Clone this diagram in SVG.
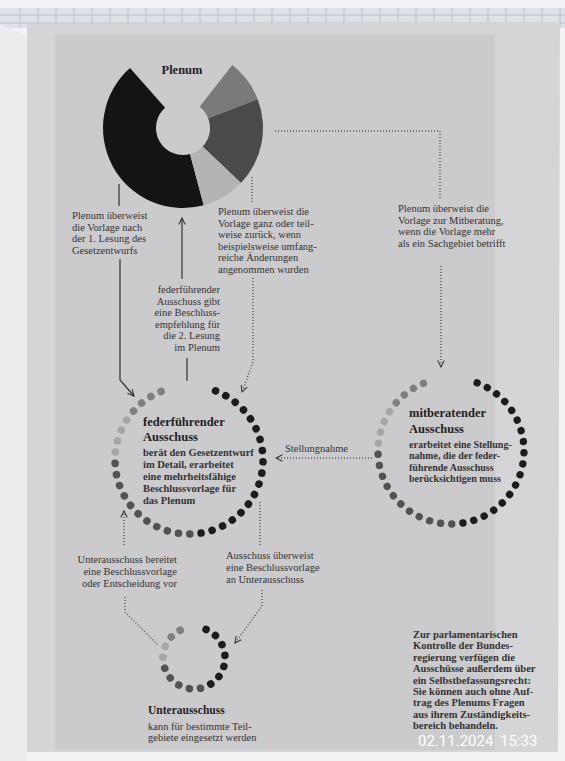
<svg xmlns="http://www.w3.org/2000/svg" width="565" height="761" viewBox="0 0 565 761">
<defs>
<style>
.t{font-family:"Liberation Serif","DejaVu Serif",serif;font-size:10.5px;fill:#333}
.b{font-weight:bold}
.s{font-size:10px}
.h{font-family:"Liberation Serif","DejaVu Serif",serif;font-size:12.5px;font-weight:bold;fill:#222}
.sol{fill:none;stroke:#333;stroke-width:1.2}
.dot{fill:none;stroke:#555;stroke-width:1.5;stroke-dasharray:1 2}
.k{fill:#1c1c1c}.d{fill:#525252}.l{fill:#a6a6a8}.m{fill:#7f7f7f}
.grid{stroke:#b4bccb;stroke-width:0.8}
</style>
<marker id="arr" viewBox="0 0 10 10" refX="9" refY="5" markerWidth="8" markerHeight="8" orient="auto" markerUnits="userSpaceOnUse">
<path d="M1,1 L9,5 L1,9" fill="none" stroke="#333" stroke-width="1.3"/>
</marker>
</defs>

<g id="background">
<rect width="565" height="761" fill="#f3f3f3"/>
<rect x="0" y="8" width="565" height="20" fill="#dde1e8"/>
<g class="grid">
<path d="M0,15H565M0,23H565M20,8V28M38,8V28M56,8V28M74,8V28M92,8V28M110,8V28M128,8V28M146,8V28M164,8V28M182,8V28M200,8V28M218,8V28M236,8V28M254,8V28M272,8V28M290,8V28M308,8V28M326,8V28M344,8V28M362,8V28M380,8V28M398,8V28M416,8V28M434,8V28M452,8V28M470,8V28M488,8V28M506,8V28M524,8V28M542,8V28M560,8V28"/>
</g>
<polygon points="27,24 560,22 558,752 27,752" fill="#d5d5d7"/>
<polygon points="0,24 27,36 27,761 0,761" fill="#ececed"/>
<rect x="55" y="34" width="440" height="716" fill="#cbcbcd"/>
</g>

<g id="plenum">
<path d="M203.7,205.3 A80,80 0 0 1 130.0,68.1 L165.1,107.8 A27,27 0 0 0 190.0,154.1 Z" fill="#141414"/>
<path d="M232.3,65.0 A80,80 0 0 1 257.7,99.3 L208.2,118.3 A27,27 0 0 0 199.6,106.7 Z" fill="#7a7a7c"/>
<path d="M257.7,99.3 A80,80 0 0 1 241.0,183.1 L202.6,146.6 A27,27 0 0 0 208.2,118.3 Z" fill="#4a4a4c"/>
<path d="M241.0,183.1 A80,80 0 0 1 203.7,205.3 L190.0,154.1 A27,27 0 0 0 202.6,146.6 Z" fill="#b4b4b6"/>
<text class="h" x="182" y="74" text-anchor="middle">Plenum</text>
</g>

<g id="connectors">
<path class="sol" d="M119,184V206"/>
<path class="sol" d="M120,259V380L134,396" marker-end="url(#arr)"/>
<path class="sol" d="M182,279V218" marker-end="url(#arr)"/>
<path class="sol" d="M187,358V381"/>
<path class="dot" d="M252,177V203"/>
<path class="dot" d="M253,278V362L242,392" marker-end="url(#arr)"/>
<path class="dot" d="M275,131H440V200"/>
<path class="dot" d="M441,266V367" marker-end="url(#arr)"/>
<path class="dot" d="M372,458H276" marker-end="url(#arr)"/>
<path class="dot" d="M124,545V511" marker-end="url(#arr)"/>
<path class="dot" d="M125,597V612L158,645"/>
<path class="dot" d="M260,502V547"/>
<path class="dot" d="M262,590V606L235,643" marker-end="url(#arr)"/>
</g>

<g id="labels">
<text class="t" x="72" y="219">Plenum überweist<tspan x="72" dy="11.5">die Vorlage nach</tspan><tspan x="72" dy="11.5">der 1. Lesung des</tspan><tspan x="72" dy="11.5">Gesetzentwurfs</tspan></text>
<text class="t" x="218" y="215">Plenum überweist die<tspan x="218" dy="11.5">Vorlage ganz oder teil-</tspan><tspan x="218" dy="11.5">weise zurück, wenn</tspan><tspan x="218" dy="11.5">beispielsweise umfang-</tspan><tspan x="218" dy="11.5">reiche Änderungen</tspan><tspan x="218" dy="11.5">angenommen wurden</tspan></text>
<text class="t" x="220" y="293" text-anchor="end">federführender<tspan x="220" dy="11.5">Ausschuss gibt</tspan><tspan x="220" dy="11.5">eine Beschluss-</tspan><tspan x="220" dy="11.5">empfehlung für</tspan><tspan x="220" dy="11.5">die 2. Lesung</tspan><tspan x="220" dy="11.5">im Plenum</tspan></text>
<text class="t" x="398" y="212">Plenum überweist die<tspan x="398" dy="11.5">Vorlage zur Mitberatung,</tspan><tspan x="398" dy="11.5">wenn die Vorlage mehr</tspan><tspan x="398" dy="11.5">als ein Sachgebiet betrifft</tspan></text>
<text class="t" x="285" y="452">Stellungnahme</text>
<text class="t" x="177" y="563" text-anchor="end">Unterausschuss bereitet<tspan x="177" dy="12">eine Beschlussvorlage</tspan><tspan x="177" dy="12">oder Entscheidung vor</tspan></text>
<text class="t" x="226" y="559">Ausschuss überweist<tspan x="226" dy="12">eine Beschlussvorlage</tspan><tspan x="226" dy="12">an Unterausschuss</tspan></text>
<text class="t b" x="413" y="638">Zur parlamentarischen<tspan x="413" dy="11.4">Kontrolle der Bundes-</tspan><tspan x="413" dy="11.4">regierung verfügen die</tspan><tspan x="413" dy="11.4">Ausschüsse außerdem über</tspan><tspan x="413" dy="11.4">ein Selbstbefassungsrecht:</tspan><tspan x="413" dy="11.4">Sie können auch ohne Auf-</tspan><tspan x="413" dy="11.4">trag des Plenums Fragen</tspan><tspan x="413" dy="11.4">aus ihrem Zuständigkeits-</tspan><tspan x="413" dy="11.4">bereich behandeln.</tspan></text>
<text x="418" y="746" font-family="Roboto,'DejaVu Sans',sans-serif" font-size="15" fill="#ffffff">02.11.2024<tspan x="500">15:33</tspan></text>
</g>

<g id="federfuehrender-ausschuss">
<g transform="translate(189,460)">
<circle class="k" cx="0" cy="-74" r="3.8" transform="rotate(21)"/>
<circle class="k" cx="0" cy="-74" r="3.8" transform="rotate(29.8)"/>
<circle class="k" cx="0" cy="-74" r="3.8" transform="rotate(38.6)"/>
<circle class="k" cx="0" cy="-74" r="3.8" transform="rotate(47.4)"/>
<circle class="k" cx="0" cy="-74" r="3.8" transform="rotate(56.2)"/>
<circle class="k" cx="0" cy="-74" r="3.8" transform="rotate(65)"/>
<circle class="k" cx="0" cy="-74" r="3.8" transform="rotate(73.8)"/>
<circle class="k" cx="0" cy="-74" r="3.8" transform="rotate(82.6)"/>
<circle class="k" cx="0" cy="-74" r="3.8" transform="rotate(91.4)"/>
<circle class="k" cx="0" cy="-74" r="3.8" transform="rotate(100.2)"/>
<circle class="k" cx="0" cy="-74" r="3.8" transform="rotate(109)"/>
<circle class="k" cx="0" cy="-74" r="3.8" transform="rotate(117.8)"/>
<circle class="k" cx="0" cy="-74" r="3.8" transform="rotate(126.6)"/>
<circle class="k" cx="0" cy="-74" r="3.8" transform="rotate(135.4)"/>
<circle class="k" cx="0" cy="-74" r="3.8" transform="rotate(144.2)"/>
<circle class="k" cx="0" cy="-74" r="3.8" transform="rotate(153)"/>
<circle class="k" cx="0" cy="-74" r="3.8" transform="rotate(161.8)"/>
<circle class="k" cx="0" cy="-74" r="3.8" transform="rotate(170.6)"/>
<circle class="d" cx="0" cy="-74" r="3.8" transform="rotate(179.4)"/>
<circle class="d" cx="0" cy="-74" r="3.8" transform="rotate(188.2)"/>
<circle class="d" cx="0" cy="-74" r="3.8" transform="rotate(197)"/>
<circle class="d" cx="0" cy="-74" r="3.8" transform="rotate(205.8)"/>
<circle class="d" cx="0" cy="-74" r="3.8" transform="rotate(214.6)"/>
<circle class="d" cx="0" cy="-74" r="3.8" transform="rotate(223.4)"/>
<circle class="d" cx="0" cy="-74" r="3.8" transform="rotate(232.2)"/>
<circle class="d" cx="0" cy="-74" r="3.8" transform="rotate(241)"/>
<circle class="d" cx="0" cy="-74" r="3.8" transform="rotate(249.8)"/>
<circle class="d" cx="0" cy="-74" r="3.8" transform="rotate(258.6)"/>
<circle class="d" cx="0" cy="-74" r="3.8" transform="rotate(267.4)"/>
<circle class="l" cx="0" cy="-74" r="3.8" transform="rotate(276.2)"/>
<circle class="l" cx="0" cy="-74" r="3.8" transform="rotate(285)"/>
<circle class="l" cx="0" cy="-74" r="3.8" transform="rotate(293.8)"/>
<circle class="l" cx="0" cy="-74" r="3.8" transform="rotate(302.6)"/>
<circle class="m" cx="0" cy="-74" r="3.8" transform="rotate(311.4)"/>
<circle class="m" cx="0" cy="-74" r="3.8" transform="rotate(320.2)"/>
<circle class="m" cx="0" cy="-74" r="3.8" transform="rotate(329)"/>
<circle class="m" cx="0" cy="-74" r="3.8" transform="rotate(337.8)"/>
</g>
<text class="h" x="143" y="426">federführender</text>
<text class="h" x="143" y="441">Ausschuss</text>
<text class="t b" x="143" y="456">berät den Gesetzentwurf<tspan x="143" dy="12">im Detail, erarbeitet</tspan><tspan x="143" dy="12">eine mehrheitsfähige</tspan><tspan x="143" dy="12">Beschlussvorlage für</tspan><tspan x="143" dy="12">das Plenum</tspan></text>
</g>

<g id="mitberatender-ausschuss">
<g transform="translate(451,451)">
<circle class="k" cx="0" cy="-73" r="3.7" transform="rotate(21)"/>
<circle class="k" cx="0" cy="-73" r="3.7" transform="rotate(29.8)"/>
<circle class="k" cx="0" cy="-73" r="3.7" transform="rotate(38.6)"/>
<circle class="k" cx="0" cy="-73" r="3.7" transform="rotate(47.4)"/>
<circle class="k" cx="0" cy="-73" r="3.7" transform="rotate(56.2)"/>
<circle class="k" cx="0" cy="-73" r="3.7" transform="rotate(65)"/>
<circle class="k" cx="0" cy="-73" r="3.7" transform="rotate(73.8)"/>
<circle class="k" cx="0" cy="-73" r="3.7" transform="rotate(82.6)"/>
<circle class="k" cx="0" cy="-73" r="3.7" transform="rotate(91.4)"/>
<circle class="k" cx="0" cy="-73" r="3.7" transform="rotate(100.2)"/>
<circle class="k" cx="0" cy="-73" r="3.7" transform="rotate(109)"/>
<circle class="k" cx="0" cy="-73" r="3.7" transform="rotate(117.8)"/>
<circle class="k" cx="0" cy="-73" r="3.7" transform="rotate(126.6)"/>
<circle class="k" cx="0" cy="-73" r="3.7" transform="rotate(135.4)"/>
<circle class="k" cx="0" cy="-73" r="3.7" transform="rotate(144.2)"/>
<circle class="k" cx="0" cy="-73" r="3.7" transform="rotate(153)"/>
<circle class="k" cx="0" cy="-73" r="3.7" transform="rotate(161.8)"/>
<circle class="k" cx="0" cy="-73" r="3.7" transform="rotate(170.6)"/>
<circle class="d" cx="0" cy="-73" r="3.7" transform="rotate(179.4)"/>
<circle class="d" cx="0" cy="-73" r="3.7" transform="rotate(188.2)"/>
<circle class="d" cx="0" cy="-73" r="3.7" transform="rotate(197)"/>
<circle class="d" cx="0" cy="-73" r="3.7" transform="rotate(205.8)"/>
<circle class="d" cx="0" cy="-73" r="3.7" transform="rotate(214.6)"/>
<circle class="d" cx="0" cy="-73" r="3.7" transform="rotate(223.4)"/>
<circle class="d" cx="0" cy="-73" r="3.7" transform="rotate(232.2)"/>
<circle class="d" cx="0" cy="-73" r="3.7" transform="rotate(241)"/>
<circle class="d" cx="0" cy="-73" r="3.7" transform="rotate(249.8)"/>
<circle class="d" cx="0" cy="-73" r="3.7" transform="rotate(258.6)"/>
<circle class="d" cx="0" cy="-73" r="3.7" transform="rotate(267.4)"/>
<circle class="l" cx="0" cy="-73" r="3.7" transform="rotate(276.2)"/>
<circle class="l" cx="0" cy="-73" r="3.7" transform="rotate(285)"/>
<circle class="l" cx="0" cy="-73" r="3.7" transform="rotate(293.8)"/>
<circle class="l" cx="0" cy="-73" r="3.7" transform="rotate(302.6)"/>
<circle class="m" cx="0" cy="-73" r="3.7" transform="rotate(311.4)"/>
<circle class="m" cx="0" cy="-73" r="3.7" transform="rotate(320.2)"/>
<circle class="m" cx="0" cy="-73" r="3.7" transform="rotate(329)"/>
<circle class="m" cx="0" cy="-73" r="3.7" transform="rotate(337.8)"/>
</g>
<text class="h" x="409" y="417">mitberatender</text>
<text class="h" x="409" y="433">Ausschuss</text>
<text class="t b s" x="409" y="448">erarbeitet eine Stellung-<tspan x="409" dy="11.3">nahme, die der feder-</tspan><tspan x="409" dy="11.3">führende Ausschuss</tspan><tspan x="409" dy="11.3">berücksichtigen muss</tspan></text>
</g>

<g id="unterausschuss">
<g transform="translate(194,658)">
<circle class="k" cx="0" cy="-31" r="3.8" transform="rotate(23)"/>
<circle class="k" cx="0" cy="-31" r="3.8" transform="rotate(43.7)"/>
<circle class="k" cx="0" cy="-31" r="3.8" transform="rotate(64.4)"/>
<circle class="k" cx="0" cy="-31" r="3.8" transform="rotate(85.1)"/>
<circle class="k" cx="0" cy="-31" r="3.8" transform="rotate(105.8)"/>
<circle class="k" cx="0" cy="-31" r="3.8" transform="rotate(126.5)"/>
<circle class="k" cx="0" cy="-31" r="3.8" transform="rotate(147.2)"/>
<circle class="d" cx="0" cy="-31" r="3.8" transform="rotate(167.9)"/>
<circle class="d" cx="0" cy="-31" r="3.8" transform="rotate(188.6)"/>
<circle class="d" cx="0" cy="-31" r="3.8" transform="rotate(209.3)"/>
<circle class="d" cx="0" cy="-31" r="3.8" transform="rotate(230)"/>
<circle class="d" cx="0" cy="-31" r="3.8" transform="rotate(250.7)"/>
<circle class="l" cx="0" cy="-31" r="3.8" transform="rotate(271.4)"/>
<circle class="l" cx="0" cy="-31" r="3.8" transform="rotate(292.1)"/>
<circle class="m" cx="0" cy="-31" r="3.8" transform="rotate(312.8)"/>
<circle class="m" cx="0" cy="-31" r="3.8" transform="rotate(333.5)"/>
</g>
<text class="h" x="148" y="714" style="font-size:11.5px">Unterausschuss</text>
<text class="t" x="148" y="730">kann für bestimmte Teil-<tspan x="148" dy="11">gebiete eingesetzt werden</tspan></text>
</g>
</svg>
